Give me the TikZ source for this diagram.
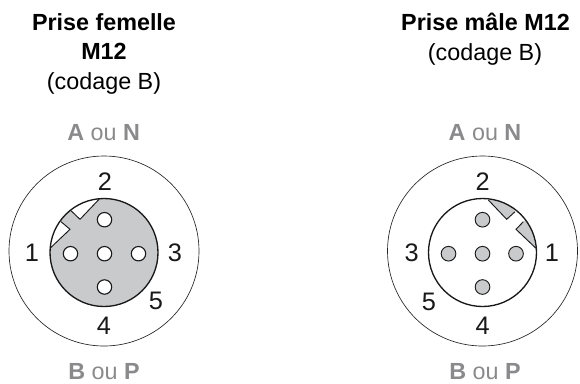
\documentclass[tikz,border=0pt]{standalone}
\usepackage{fontspec}
\setmainfont{Liberation Sans}
\definecolor{keygray}{RGB}{200,202,203}
\definecolor{labgray}{RGB}{138,138,140}
\tikzset{
  x=0.75pt,y=-0.75pt,
  ttl/.style={font=\fontsize{17.5}{20}\selectfont,anchor=base,inner sep=0pt,text=black},
  num/.style={font=\fontsize{19}{20}\selectfont,anchor=base,inner sep=0pt,text=black!90},
  lab/.style={font=\fontsize{17.5}{20}\selectfont,anchor=base,inner sep=0pt,text=labgray},
  outerc/.style={draw=black!85,line width=0.5pt},
  innerc/.style={draw=black!90,line width=1pt},
  holepin/.style={circle,draw=black!90,fill=white,line width=0.85pt,minimum size=10.8pt,inner sep=0pt},
  solidpin/.style={circle,draw=black!90,fill=keygray,line width=0.7pt,minimum size=11pt,inner sep=0pt},
  keyedge/.style={draw=black!90,line width=0.7pt}
}
\begin{document}
\begin{tikzpicture}
\useasboundingbox (0,0) rectangle (580,383);
% left connector
\node[ttl] (t1a) at (104,30) {\textbf{Prise femelle}};
\node[ttl] (t1b) at (104,59.5) {\textbf{M12}};
\node[ttl] (t1c) at (104,89) {(codage B)};
\node[lab] (la) at (103.7,140) {\textbf{A} ou \textbf{N}};
\draw[outerc] (104,251) circle (95);
\fill[keygray] (104,252.5) circle (54);
\begin{scope}
  \clip (104,252.5) circle (54);
  \fill[white] (99.3,199) -- (80,219.3) -- (71,210.7) -- (85,190) -- cycle;
  \fill[white] (61,221.7) -- (70,229.3) -- (50,248.3) -- (40,240) -- (50,215) -- cycle;
  \draw[keyedge] (99.3,199) -- (80,219.3) -- (71,210.7);
  \draw[keyedge] (61,221.7) -- (70,229.3) -- (50,248.3);
\end{scope}
\draw[innerc] (104,252.5) circle (54);
\node[holepin] (p2) at (104.5,219.7) {};
\node[holepin] (p1) at (70.5,253.7) {};
\node[holepin] (p5) at (104.5,253.7) {};
\node[holepin] (p3) at (138.5,253.7) {};
\node[holepin] (p4) at (104.5,287) {};
\node[num] (n2) at (105,190.7) {2};
\node[num] (n1) at (32,261) {1};
\node[num] (n3) at (175,261) {3};
\node[num] (n4) at (104,334) {4};
\node[num] (n5) at (156,309) {5};
\node[lab] (lb) at (104,379) {\textbf{B} ou \textbf{P}};
% right connector
\node[ttl] (t2a) at (485.5,30) {\textbf{Prise mâle M12}};
\node[ttl] (t2b) at (485,60.5) {(codage B)};
\node[lab] (ra) at (485,140) {\textbf{A} ou \textbf{N}};
\draw[outerc] (482.5,251) circle (95);
\begin{scope}
  \clip (482.5,252.5) circle (54);
  \fill[keygray] (488.3,200) -- (506.7,219.3) -- (515,211.7) -- (500,190) -- cycle;
  \fill[keygray] (523.3,221.7) -- (516,229.3) -- (536,248.3) -- (545,240) -- (535,215) -- cycle;
  \draw[keyedge] (488.3,200) -- (506.7,219.3) -- (515,211.7);
  \draw[keyedge] (523.3,221.7) -- (516,229.3) -- (536,248.3);
\end{scope}
\draw[innerc] (482.5,252.5) circle (54);
\node[solidpin] (q2) at (482.5,219.7) {};
\node[solidpin] (q3) at (448.5,253.7) {};
\node[solidpin] (q5) at (482.5,253.7) {};
\node[solidpin] (q1) at (516,253.7) {};
\node[solidpin] (q4) at (482.5,287) {};
\node[num] (m2) at (482.7,190.7) {2};
\node[num] (m3) at (411.7,261) {3};
\node[num] (m1) at (552,261) {1};
\node[num] (m4) at (482.7,334) {4};
\node[num] (m5) at (429,310) {5};
\node[lab] (rb) at (485,379) {\textbf{B} ou \textbf{P}};
\end{tikzpicture}
\end{document}
